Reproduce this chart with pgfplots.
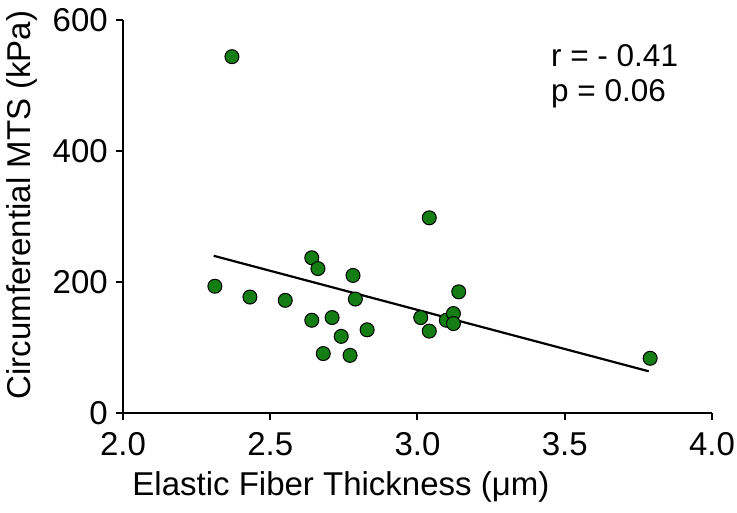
\documentclass[border=0pt]{standalone}
\usepackage{fontspec}
\setmainfont{Liberation Sans}
\usepackage{pgfplots}
\pgfplotsset{compat=1.18}
\definecolor{dotgreen}{RGB}{20,125,20}
\begin{document}
\fontsize{33}{38}\selectfont
\begin{tikzpicture}
  \begin{axis}[
      scale only axis,
      width=589pt, height=393pt,
      xmin=2, xmax=4, ymin=0, ymax=600,
      axis lines=left,
      axis line style={line width=2.2pt, -},
      tick style={line width=2pt, black},
      tick align=outside,
      major tick length=7pt,
      xtick={2,2.5,3,3.5,4},
      ytick={0,200,400,600},
      /pgf/number format/assume math mode=true,
      ticklabel style={font=\fontsize{33}{38}\selectfont, inner sep=2pt},
      xticklabel style={yshift=-10pt, /pgf/number format/.cd, fixed, fixed zerofill, precision=1},
      yticklabel style={xshift=-6pt},
      label style={font=\fontsize{33}{38}\selectfont, inner sep=0pt},
      xlabel={Elastic Fiber Thickness (μm)},
      ylabel={Circumferential MTS (kPa)},
      xlabel style={at={(axis description cs:0.370,-0.188)}, anchor=center},
      ylabel style={at={(axis description cs:-0.1715,0.529)}, anchor=center},
      clip=false,
    ]
    \coordinate (O) at (axis cs:2,0);
    % regression line
    \addplot[black, line width=2.2pt] coordinates {(2.308,240) (3.785,63.7)};
    % data points
    \addplot[only marks, mark=*, mark size=7pt,
             mark options={fill=dotgreen, draw=black, line width=1pt}]
      coordinates {
        (2.370,544) (2.312,193.5) (2.431,177) (2.551,172)
        (2.641,237) (2.662,220.5) (2.781,210) (2.789,174)
        (2.641,141.6) (2.710,145.7) (2.829,127) (2.741,117)
        (2.680,90.7) (2.771,88) (3.040,298) (3.011,145.7)
        (3.040,125) (3.098,141.6) (3.122,151.8) (3.122,136.5)
        (3.140,185) (3.790,83.5)
      };
    \node[anchor=base west, align=left, inner sep=0pt,
          font=\fontsize{31.5}{35}\selectfont]
      at (axis cs:3.453,475) {r = - 0.41\\p = 0.06};
  \end{axis}
  \pgfresetboundingbox
  \path[use as bounding box] (O) ++(-123pt,-100pt) rectangle ++(737pt,513pt);
\end{tikzpicture}
\end{document}
